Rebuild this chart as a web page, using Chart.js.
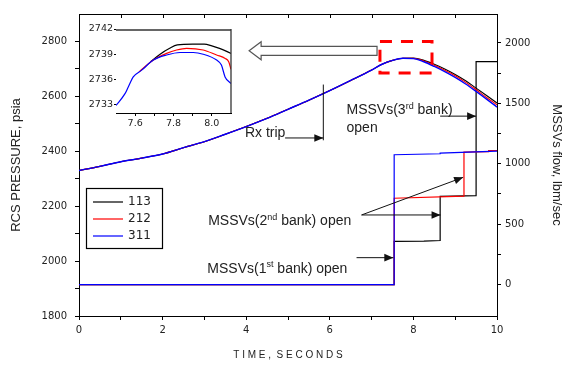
<!DOCTYPE html>
<html>
<head>
<meta charset="utf-8">
<script src="https://cdn.jsdelivr.net/npm/chart.js@4.4.1/dist/chart.umd.min.js"></script>
<style>
  html, body { margin: 0; padding: 0; background: #fff; }
  #wrap { position: relative; width: 563px; height: 365px; }
  #main { position: absolute; left: 0; top: 0; }
  #inset { position: absolute; left: 82px; top: 20px; }
</style>
</head>
<body>
<div id="wrap">
  <canvas id="main" width="563" height="365"></canvas>
  <canvas id="inset" width="156" height="112"></canvas>
</div>
<script>
// runs
var runs = ['113', '212', '311'];
var runColors = ['#000000', '#ff0000', '#0000ff'];
var runWidths = [1.1, 1.1, 1.4];

// RCS pressure, psia (left axis)
var time = [0, 0.5, 1, 1.5, 2, 2.5, 3, 3.5, 4, 4.5, 5, 5.5, 6, 6.5, 7, 7.25, 7.5, 7.75, 8, 8.25, 8.5, 8.75, 9, 9.25, 9.5, 9.75, 10];
var p113 = [2330, 2345, 2362, 2375, 2390, 2413, 2435, 2462, 2490, 2520, 2553, 2586, 2621, 2658, 2696, 2717, 2731, 2739, 2739.3, 2731, 2717, 2700, 2680, 2657, 2630, 2603, 2576];
var p212 = [2330, 2345, 2362, 2375, 2390, 2413, 2435, 2462, 2490, 2520, 2553, 2586, 2621, 2658, 2696, 2717, 2731, 2739, 2738.5, 2729, 2713, 2695, 2675, 2651, 2624, 2596, 2569];
var p311 = [2330, 2345, 2362, 2375, 2390, 2413, 2435, 2462, 2490, 2520, 2553, 2586, 2621, 2658, 2696, 2717, 2731, 2738.8, 2737.6, 2726, 2709, 2690, 2669, 2645, 2618, 2590, 2561];

// MSSVs flow, lbm/sec (right axis), repeated times give the valve steps
var flowT113 = [0, 7.54, 7.54, 8.25, 8.64, 8.64, 9.5, 9.5, 10];
var flow113 = [0, 0, 358, 360, 365, 730, 737, 1846, 1846];
var flowT212 = [0, 7.54, 7.54, 9.21, 9.21, 9.8, 9.8, 10];
var flow212 = [0, 0, 715, 732, 1097, 1100, 1110, 1110];
var flowT311 = [0, 7.54, 7.54, 8.64, 8.64, 10];
var flow311 = [0, 0, 1075, 1083, 1089, 1105];

// inset (zoom on the pressure peak)
var insetT113 = [7.68, 7.73, 7.78, 7.82, 7.9, 7.96, 8.0, 8.04, 8.1];
var inset113 = [2738.1, 2739.0, 2739.7, 2740.1, 2740.2, 2740.2, 2740.0, 2739.7, 2739.1];
var insetT212 = [7.62, 7.695, 7.764, 7.816, 7.868, 7.955, 8.025, 8.07, 8.088, 8.1];
var inset212 = [2736.9, 2738.3, 2739.1, 2739.5, 2739.7, 2739.5, 2738.9, 2738.5, 2738.1, 2737.2];
var insetT311 = [7.5, 7.547, 7.564, 7.59, 7.634, 7.695, 7.764, 7.834, 7.903, 7.955, 8.025, 8.05, 8.069, 8.1];
var inset311 = [2732.9, 2734.3, 2735.1, 2736.3, 2737.1, 2738.3, 2738.9, 2739.2, 2739.2, 2739.0, 2738.3, 2737.7, 2736.3, 2735.5];

// ticks
var timeTicks = [0, 1, 2, 3, 4, 5, 6, 7, 8, 9, 10];
var timeLabels = [0, 2, 4, 6, 8, 10];
var pressureTicks = [1800, 1900, 2000, 2100, 2200, 2300, 2400, 2500, 2600, 2700, 2800];
var pressureLabels = [1800, 2000, 2200, 2400, 2600, 2800];
var flowTicks = [0, 250, 500, 750, 1000, 1250, 1500, 1750, 2000];
var flowLabels = [0, 500, 1000, 1500, 2000];
var insetTimeTicks = [7.6, 7.7, 7.8, 7.9, 8.0];
var insetTimeLabels = [7.6, 7.8, 8.0];
var insetPressureTicks = [2733, 2736, 2739, 2742];

var TXT = '#222';
var tickFont = { family: 'DejaVu Sans', size: 10 };

function pts(xs, ys) {
  return xs.map(function (x, i) { return { x: x, y: ys[i] }; });
}
function setTicks(list) {
  return function (axis) { axis.ticks = list.map(function (v) { return { value: v }; }); };
}
function labelIf(list, fmt) {
  return function (v) {
    for (var i = 0; i < list.length; i++) {
      if (Math.abs(list[i] - v) < 1e-6) return fmt ? fmt(v) : String(v);
    }
    return '';
  };
}

function arrow(ctx, x1, y1, x2, y2) {
  ctx.beginPath(); ctx.moveTo(x1, y1); ctx.lineTo(x2, y2); ctx.stroke();
  var a = Math.atan2(y2 - y1, x2 - x1), L = 9, W = 3.8;
  ctx.beginPath();
  ctx.moveTo(x2, y2);
  ctx.lineTo(x2 - L * Math.cos(a) + W * Math.sin(a), y2 - L * Math.sin(a) - W * Math.cos(a));
  ctx.lineTo(x2 - L * Math.cos(a) - W * Math.sin(a), y2 - L * Math.sin(a) + W * Math.cos(a));
  ctx.closePath(); ctx.fill();
}
function richText(ctx, parts, x, y) {
  parts.forEach(function (p) {
    ctx.font = p.sup ? '9px "Liberation Sans"' : '14px "Liberation Sans"';
    ctx.fillText(p.s, x, p.sup ? y - 4 : y);
    x += ctx.measureText(p.s).width;
  });
}

// arrows, notes, legend and frame of the main plot
var mainDecor = {
  id: 'mainDecor',
  afterDraw: function (chart) {
    var ctx = chart.ctx, a = chart.chartArea;
    var sx = chart.scales.x, sy = chart.scales.y;
    var X = function (t) { return sx.getPixelForValue(t); };
    var Y = function (p) { return sy.getPixelForValue(p); };
    ctx.save();
    // top frame with inward ticks
    ctx.strokeStyle = '#000'; ctx.lineWidth = 1;
    ctx.beginPath(); ctx.moveTo(a.left, a.top + 0.5); ctx.lineTo(a.right, a.top + 0.5); ctx.stroke();
    timeTicks.forEach(function (t) {
      var x = Math.round(X(t)) + 0.5;
      ctx.beginPath(); ctx.moveTo(x, a.top); ctx.lineTo(x, a.top + 4); ctx.stroke();
    });

    // notes
    ctx.fillStyle = TXT; ctx.textBaseline = 'middle'; ctx.textAlign = 'left';
    richText(ctx, [{ s: 'Rx trip' }], X(3.97), Y(2466));
    richText(ctx, [{ s: 'MSSVs(3' }, { s: 'rd', sup: true }, { s: ' bank)' }], X(6.40), Y(2550));
    richText(ctx, [{ s: 'open' }], X(6.40), Y(2484));
    richText(ctx, [{ s: 'MSSVs(2' }, { s: 'nd', sup: true }, { s: ' bank) open' }], X(3.09), Y(2144));
    richText(ctx, [{ s: 'MSSVs(1' }, { s: 'st', sup: true }, { s: ' bank) open' }], X(3.07), Y(1972));

    // arrows
    ctx.strokeStyle = '#111'; ctx.fillStyle = '#111'; ctx.lineWidth = 1;
    ctx.beginPath(); ctx.moveTo(X(5.845), Y(2643)); ctx.lineTo(X(5.845), Y(2440)); ctx.stroke();
    arrow(ctx, X(4.93), Y(2448.5), X(5.845), Y(2448.5));
    arrow(ctx, X(8.64), Y(2528), X(9.5), Y(2528));
    arrow(ctx, X(6.76), Y(2168), X(8.65), Y(2168));
    arrow(ctx, X(6.76), Y(2168), X(9.19), Y(2305));
    arrow(ctx, X(6.64), Y(2012.5), X(7.52), Y(2012.5));

    // hollow arrow pointing to the inset
    var tip = X(4.07), tail = X(7.13), cy = Y(2766);
    ctx.beginPath();
    ctx.moveTo(tip, cy);
    ctx.lineTo(tip + 12, cy - 9);
    ctx.lineTo(tip + 12, cy - 4.5);
    ctx.lineTo(tail, cy - 4.5);
    ctx.lineTo(tail, cy + 4.5);
    ctx.lineTo(tip + 12, cy + 4.5);
    ctx.lineTo(tip + 12, cy + 9);
    ctx.closePath();
    ctx.fillStyle = '#fff'; ctx.fill();
    ctx.strokeStyle = '#555'; ctx.lineWidth = 1.2; ctx.stroke();

    // red dashed zoom box
    ctx.strokeStyle = '#ff0000'; ctx.lineWidth = 3; ctx.setLineDash([12, 9]);
    ctx.strokeRect(X(7.20), Y(2800), X(8.445) - X(7.20), Y(2685) - Y(2800));
    ctx.setLineDash([]);

    // legend
    var lx = a.left + 7, ly = a.top + 174;
    ctx.strokeStyle = '#000'; ctx.lineWidth = 1.2;
    ctx.strokeRect(lx + 0.5, ly + 0.5, 76, 60);
    ctx.font = '12px "DejaVu Sans"'; ctx.fillStyle = TXT;
    runs.forEach(function (r, i) {
      var yy = ly + 14 + i * 17;
      ctx.strokeStyle = runColors[i]; ctx.lineWidth = 1.2;
      ctx.beginPath(); ctx.moveTo(lx + 7, yy); ctx.lineTo(lx + 37, yy); ctx.stroke();
      ctx.fillText(r, lx + 42, yy);
    });
    ctx.restore();
  }
};

var mainSets = [];
var pData = [p113, p212, p311];
var fT = [flowT113, flowT212, flowT311], fV = [flow113, flow212, flow311];
// blue first so that it is drawn on top
[2, 1, 0].forEach(function (i) {
  mainSets.push({ label: runs[i], data: pts(time, pData[i]), yAxisID: 'y', borderColor: runColors[i],
    borderWidth: runWidths[i], pointRadius: 0, cubicInterpolationMode: 'monotone' });
});
[2, 1, 0].forEach(function (i) {
  mainSets.push({ label: runs[i] + ' flow', data: pts(fT[i], fV[i]), yAxisID: 'y1', borderColor: runColors[i],
    borderWidth: 1.2, pointRadius: 0, tension: 0 });
});

new Chart(document.getElementById('main'), {
  type: 'line',
  data: { datasets: mainSets },
  options: {
    responsive: false,
    animation: false,
    layout: { padding: { top: 9, left: 0, right: 0, bottom: 0 } },
    plugins: { legend: { display: false }, tooltip: { enabled: false } },
    scales: {
      x: {
        type: 'linear', position: 'bottom', min: 0, max: 10,
        afterBuildTicks: setTicks(timeTicks),
        afterFit: function (s) { s.height = 49; },
        ticks: { autoSkip: false, maxRotation: 0, padding: 4, color: TXT, font: tickFont,
          callback: labelIf(timeLabels) },
        grid: { drawOnChartArea: false, tickLength: 4, color: '#000' },
        border: { color: '#000', width: 1 },
        title: { display: true, text: 'T I M E ,  S E C O N D S', color: TXT,
          font: { family: 'Liberation Sans', size: 10, lineHeight: 1.2 }, padding: { top: 0, bottom: 4 } }
      },
      y: {
        type: 'linear', position: 'left', min: 1800, max: 2900,
        afterBuildTicks: setTicks(pressureTicks),
        afterFit: function (s) { s.width = 79; },
        ticks: { autoSkip: false, padding: 8, color: TXT, font: tickFont, callback: labelIf(pressureLabels) },
        grid: { drawOnChartArea: false, tickLength: 4, color: '#000' },
        border: { color: '#000', width: 1 },
        title: { display: true, text: 'RCS PRESSURE, psia', color: TXT,
          font: { family: 'Liberation Sans', size: 13, lineHeight: 1.2 }, padding: { top: 9, bottom: 0 } }
      },
      y1: {
        type: 'linear', position: 'right', min: -260, max: 2240,
        afterBuildTicks: setTicks(flowTicks),
        afterFit: function (s) { s.width = 66; },
        ticks: { autoSkip: false, padding: 4, color: TXT, font: tickFont, callback: labelIf(flowLabels) },
        grid: { drawOnChartArea: false, tickLength: 4, color: '#000' },
        border: { color: '#000', width: 1 },
        title: { display: true, text: 'MSSVs flow, lbm/sec', color: TXT,
          font: { family: 'Liberation Sans', size: 13, lineHeight: 1 }, padding: { top: 0, bottom: 0 } }
      }
    }
  },
  plugins: [mainDecor]
});

// inset
var insetFrame = {
  id: 'insetFrame',
  beforeDatasetsDraw: function (chart) {
    var ctx = chart.ctx, a = chart.chartArea;
    ctx.save(); ctx.fillStyle = '#fff';
    ctx.fillRect(a.left, a.top, a.right - a.left, a.bottom - a.top);
    ctx.restore();
  },
  afterDraw: function (chart) {
    var ctx = chart.ctx, a = chart.chartArea;
    ctx.save();
    ctx.strokeStyle = '#666'; ctx.lineWidth = 2;
    ctx.beginPath(); ctx.moveTo(a.left, a.top + 1); ctx.lineTo(a.right, a.top + 1); ctx.stroke();
    ctx.strokeStyle = '#333'; ctx.lineWidth = 1.3;
    ctx.beginPath(); ctx.moveTo(a.right, a.top); ctx.lineTo(a.right, a.bottom); ctx.stroke();
    ctx.restore();
  }
};

var iT = [insetT113, insetT212, insetT311], iV = [inset113, inset212, inset311];
var insetSets = [];
[2, 1, 0].forEach(function (i) {
  insetSets.push({ label: runs[i], data: pts(iT[i], iV[i]), borderColor: runColors[i],
    borderWidth: 1.2, pointRadius: 0, cubicInterpolationMode: 'monotone' });
});

var insetFont = { family: 'DejaVu Sans', size: 9.5 };
new Chart(document.getElementById('inset'), {
  type: 'line',
  data: { datasets: insetSets },
  options: {
    responsive: false,
    animation: false,
    layout: { padding: { top: 9, right: 7, left: 0, bottom: 0 } },
    plugins: { legend: { display: false }, tooltip: { enabled: false } },
    scales: {
      x: {
        type: 'linear', min: 7.5, max: 8.1,
        afterBuildTicks: setTicks(insetTimeTicks),
        afterFit: function (s) { s.height = 19; },
        ticks: { autoSkip: false, maxRotation: 0, padding: 2, color: TXT, font: insetFont,
          callback: labelIf(insetTimeLabels, function (v) { return v.toFixed(1); }) },
        grid: { drawOnChartArea: false, tickLength: 3, color: '#000' },
        border: { color: '#000', width: 1 }
      },
      y: {
        type: 'linear', min: 2732, max: 2742,
        afterBuildTicks: setTicks(insetPressureTicks),
        afterFit: function (s) { s.width = 34; },
        ticks: { autoSkip: false, padding: 1, color: TXT, font: insetFont,
          callback: function (v) { return String(v); } },
        grid: { drawOnChartArea: false, tickLength: 2, color: '#000' },
        border: { color: '#000', width: 1 }
      }
    }
  },
  plugins: [insetFrame]
});
</script>
</body>
</html>
